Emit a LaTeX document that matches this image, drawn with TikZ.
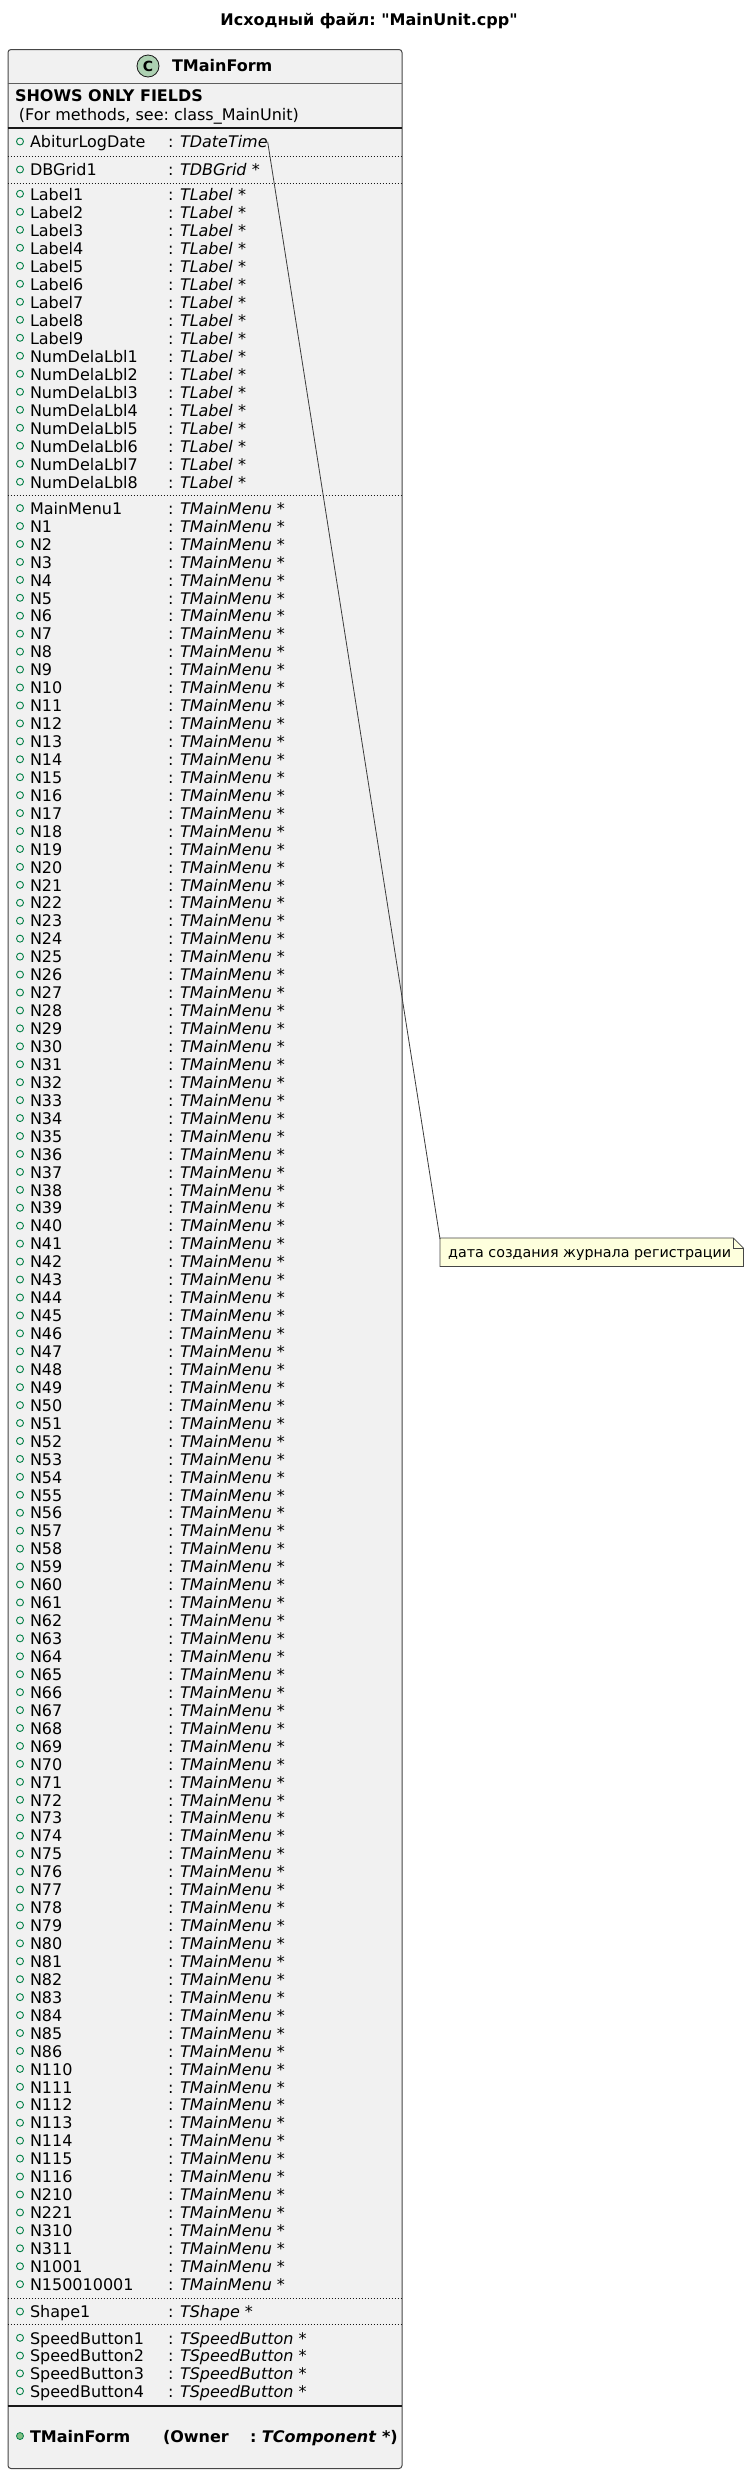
\documentclass[tikz,border=0pt]{standalone}
\usepackage{fontspec}
\setmainfont{DejaVu Sans}[Ligatures=TeXOff]
\frenchspacing
\definecolor{classbg}{HTML}{F1F1F1}
\definecolor{border}{HTML}{181818}
\definecolor{vgreen}{HTML}{038048}
\definecolor{mfill}{HTML}{84BE84}
\definecolor{cfill}{HTML}{ADD1B2}
\definecolor{notebg}{HTML}{FEFFDD}
\newcommand\fsz{\fontsize{16pt}{18pt}\selectfont\frenchspacing}
\newcommand\nfz{\fontsize{14.3pt}{16pt}\selectfont\frenchspacing}
\newcommand\fieldrowx[4]{%
  \node[vis] (#1v) at (20,#2-6.2) {};
  \node[txt] (#1) at (30,#2) {#3};
  \node[txt] (#1c) at (168,#2) {:};
  \node[txt] (#1t) at (180,#2) {#4};
}
\newcommand\fieldrow[4]{\fieldrowx{#1}{#2}{#3}{\textit{#4} *}}
\tikzset{
  txt/.style={anchor=base west, inner sep=0pt, outer sep=0pt, font=\fsz, text=black},
  vis/.style={draw=vgreen, line width=0.9pt, circle, inner sep=0pt, minimum size=7pt},
  sepdot/.style={draw=border, line width=0.8pt, dash pattern=on 1pt off 2pt},
  sepsolid/.style={draw=border, line width=1.2pt},
  septhin/.style={draw=border!70, line width=0.8pt},
}
\begin{document}
\begin{tikzpicture}[x=1pt,y=-1pt]
\useasboundingbox[fill=white] (0,0) rectangle (750,2474);
% title
\node[anchor=base, inner sep=0pt, font=\fsz\bfseries] (title) at (369,25) {Исходный файл: "MainUnit.cpp"};
% class box
\node[draw=border!80, fill=classbg, rounded corners=3pt, line width=1pt, minimum width=394pt, minimum height=2419pt, anchor=north west, inner sep=0pt] (cls) at (7.5,49) {};
% header
\node[circle, draw=border, fill=cfill, minimum size=22pt, inner sep=0pt, line width=0.8pt, font=\fontsize{14pt}{14pt}\selectfont\bfseries] (cc) at (148,66) {C};
\node[txt, font=\fsz\bfseries] (cname) at (172,71.7) {TMainForm};
\draw[septhin] (7.5,83) -- (401.5,83);
\node[txt, font=\fsz\bfseries] (shows) at (15,101.7) {SHOWS ONLY FIELDS};
\node[txt] (formeth) at (19,120.5) {(For methods, see: class\_MainUnit)};
\draw[sepsolid] (7.5,128) -- (401.5,128);
% first fields
\fieldrowx{abit}{147.7}{AbiturLogDate}{\textit{TDateTime}}
\draw[sepdot] (7.5,156) -- (401.5,156);
\fieldrow{dbg}{175.7}{DBGrid1}{TDBGrid}
\draw[sepdot] (7.5,183) -- (401.5,183);
% labels
\foreach \k in {1,...,9}{
  \pgfmathsetmacro\yy{200+18*(\k-1)}
  \fieldrow{lab\k}{\yy}{Label\k}{TLabel}
}
\foreach \k in {1,...,8}{
  \pgfmathsetmacro\yy{200+18*(\k+8)}
  \fieldrow{ndl\k}{\yy}{NumDelaLbl\k}{TLabel}
}
\draw[sepdot] (7.5,495) -- (401.5,495);
% menus
\fieldrow{mm}{514.3}{MainMenu1}{TMainMenu}
\foreach \k in {1,...,86}{
  \pgfmathsetmacro\yy{514.3+17.94*\k}
  \fieldrow{n\k}{\yy}{N\k}{TMainMenu}
}
\foreach \nm [count=\c from 87] in {110,111,112,113,114,115,116,210,221,310,311,1001,150010001}{
  \pgfmathsetmacro\yy{514.3+17.94*\c}
  \fieldrow{n\nm}{\yy}{N\nm}{TMainMenu}
}
\draw[sepdot] (7.5,2298) -- (401.5,2298);
\fieldrow{shp}{2317.7}{Shape1}{TShape}
\draw[sepdot] (7.5,2324) -- (401.5,2324);
\foreach \k in {1,...,4}{
  \pgfmathsetmacro\yy{2344+17.78*(\k-1)}
  \fieldrow{sb\k}{\yy}{SpeedButton\k}{TSpeedButton}
}
\draw[sepsolid] (7.5,2406) -- (401.5,2406);
% method
\node[circle, fill=mfill, draw=vgreen, line width=0.8pt, minimum size=7pt, inner sep=0pt] (mv) at (20,2436) {};
\node[txt, font=\fsz\bfseries] (mname) at (30,2442) {TMainForm};
\node[txt, font=\fsz\bfseries] (mown) at (163,2442) {(Owner};
\node[txt, font=\fsz\bfseries] (mtype) at (250,2442) {: \textit{TComponent} *)};
% note
\node[anchor=north west, minimum width=303pt, minimum height=28pt, inner sep=0pt] (note) at (440,1238) {};
\draw[fill=notebg, draw=border!80, line width=0.8pt]
  (note.north west) -- ([xshift=-10pt]note.north east) -- ([yshift=-10pt]note.north east) -- (note.south east) -- (note.south west) -- cycle;
\draw[draw=border!80, line width=0.8pt]
  ([xshift=-10pt]note.north east) -- ([xshift=-10pt,yshift=-10pt]note.north east) -- ([yshift=-10pt]note.north east);
\node[anchor=base west, inner sep=0pt, font=\nfz] (notetxt) at (448,1257) {дата создания журнала регистрации};
% connector
\draw[draw=border!85, line width=0.8pt] (abitt.east) -- ([yshift=-1pt]note.north west);
\end{tikzpicture}
\end{document}
